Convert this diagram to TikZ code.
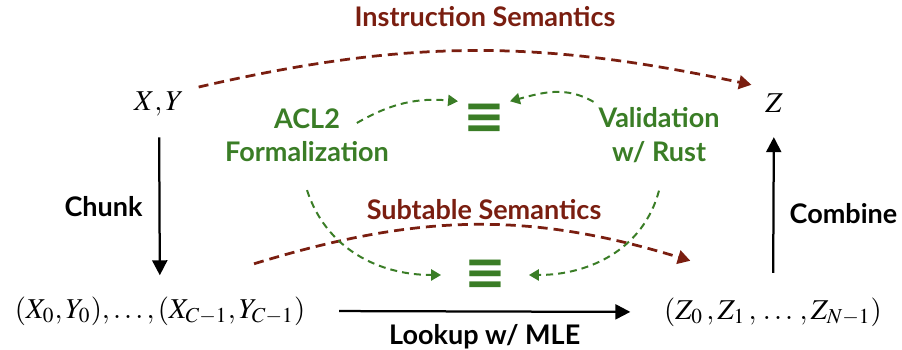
\documentclass[tikz,border=0pt]{standalone}
\usepackage{amsmath, amssymb}
\usepackage{mathptmx}
\usepackage{fontspec}
\setsansfont{Lato}
\newfontfamily\symfont{DejaVu Sans}
\usepackage{tikz}
\usetikzlibrary{arrows.meta, positioning}
\definecolor{semred}{RGB}{122,30,16}
\definecolor{valgreen}{RGB}{58,125,38}

\begin{document}
\begin{tikzpicture}[
    x=0.4pt, y=0.4pt,
    txt/.style={font=\fontsize{10.8}{13}\sffamily\bfseries},
    semtxt/.style={txt, text=semred},
    valtxt/.style={txt, text=valgreen, inner sep=1pt},
    mathtxt/.style={font=\fontsize{11.5}{14}\selectfont},
    eqv/.style={text=valgreen, font=\fontsize{20}{20}\symfont\bfseries, inner sep=1pt},
    flow/.style={draw, line width=0.9pt, -{Triangle[length=6pt, width=6pt]}},
    semarrow/.style={draw=semred, line width=1.1pt, dash pattern=on 4pt off 2.4pt,
        -{Triangle[length=5pt, width=5.5pt]}},
    valarrow/.style={draw=valgreen, line width=0.8pt, dash pattern=on 2.8pt off 2pt,
        -{Triangle[length=4pt, width=4.5pt]}},
]
\useasboundingbox (0,0) rectangle (902,-350);

\node[mathtxt] (xy) at (159,-104) {$X, Y$};
\node[mathtxt] (z) at (774,-103) {$Z$};
\node[mathtxt] (xs) at (160,-311) {$(X_0, Y_0), \ldots, (X_{C-1}, Y_{C-1})$};
\node[mathtxt] (zs) at (773,-312) {$(Z_0\,, Z_1\,,\, \ldots\, , Z_{N-1})$};

\node[semtxt] (instr) at (485,-17) {Instruction Semantics};
\node[semtxt] (subtab) at (484,-210) {Subtable Semantics};

\node[valtxt] (acl) at (307,-119) {ACL2};
\node[valtxt] (formal) at (307,-152) {Formalization};
\node[valtxt] (valid) at (659,-118) {Validation};
\node[valtxt] (rust) at (659,-152) {w/ Rust};

\node[eqv] (eqtop) at (484,-119) {≡};
\node[eqv] (eqbot) at (485,-275) {≡};

\draw[flow, shorten <=5pt, shorten >=5pt] (xy) -- (xs)
    node[midway, left=3pt, txt] (chunk) {Chunk};
\draw[flow, shorten <=6.4pt, shorten >=6.4pt] (zs) -- (z)
    node[pos=0.45, right=2.7pt, txt] (combine) {Combine};
\draw[flow, shorten <=10pt, shorten >=10pt] (xs.east) -- (zs.west)
    node[midway, below=1.5pt, txt] (lookup) {Lookup w/ MLE};

\draw[semarrow] ([shift={(6,-4)}]xy.north east) to[out=13, in=168] ([shift={(-5,0)}]z.north west);
\draw[semarrow] ([shift={(-60,24)}]xs.north east) to[out=17, in=163] ([shift={(35,28)}]zs.north west);

\draw[valarrow] ([shift={(14,-4)}]acl.east) to[out=30, in=175] ([shift={(-2,0)}]eqtop.north west);
\draw[valarrow] ([shift={(-2,3)}]valid.north west) to[out=150, in=15] ([shift={(2,0)}]eqtop.north east);
\draw[valarrow] ([yshift=-10]formal.south) to[out=-72, in=180] ([xshift=-8]eqbot.west);
\draw[valarrow] ([yshift=-10]rust.south) to[out=-105, in=0] ([xshift=8]eqbot.east);
\end{tikzpicture}
\end{document}
